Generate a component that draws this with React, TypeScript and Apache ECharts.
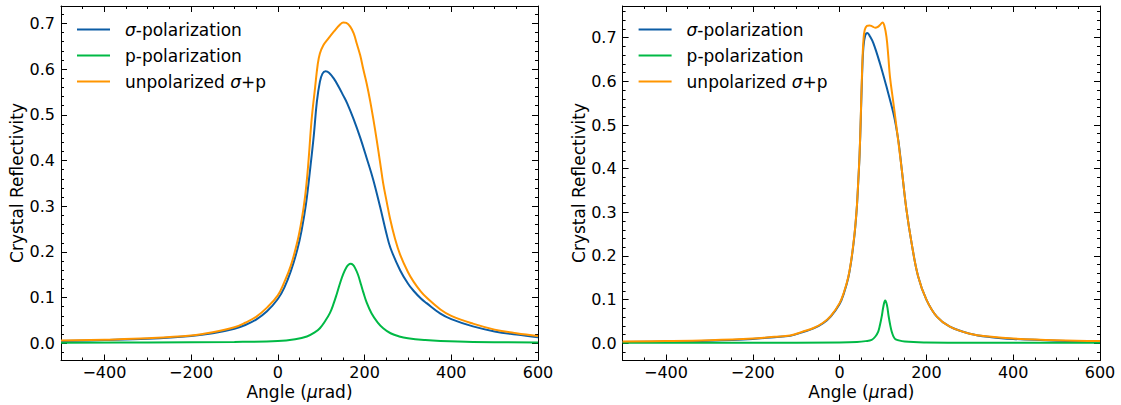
import React, { useEffect, useRef } from 'react';
import * as echarts from 'echarts';

// ---- tick values ----
const xMajor = [-400, -200, 0, 200, 400, 600];
const xMinor = [-450, -350, -300, -250, -150, -100, -50, 50, 100, 150, 250, 300, 350, 450, 500, 550];
const yMajor = [0, 0.1, 0.2, 0.3, 0.4, 0.5, 0.6, 0.7];
const yMinor = [-0.02, 0.02, 0.04, 0.06, 0.08, 0.12, 0.14, 0.16, 0.18, 0.22, 0.24, 0.26, 0.28, 0.32, 0.34, 0.36, 0.38,
  0.42, 0.44, 0.46, 0.48, 0.52, 0.54, 0.56, 0.58, 0.62, 0.64, 0.66, 0.68, 0.72, 0.74, 0.76];

// ---- left panel data ----
const LS_angle = [-500, -400, -300, -200, -150, -100, -75, -50, -25, 0, 15, 30, 45, 55, 65, 75, 83, 90, 97, 103, 110, 118, 130, 140, 151, 160, 175, 190, 205, 220, 236, 250, 260, 282, 300, 313, 330, 343, 375, 400, 450, 500, 550, 600];
const LS_val = [0.005, 0.007, 0.010, 0.016, 0.022, 0.032, 0.040, 0.052, 0.070, 0.097, 0.122, 0.158, 0.205, 0.248, 0.305, 0.385, 0.455, 0.528, 0.572, 0.590, 0.595, 0.592, 0.578, 0.562, 0.542, 0.525, 0.490, 0.450, 0.405, 0.358, 0.298, 0.242, 0.208, 0.160, 0.131, 0.115, 0.098, 0.088, 0.065, 0.053, 0.037, 0.026, 0.019, 0.013];

const LP_angle = [-500, -300, -100, 0, 40, 67, 85, 97, 110, 120, 128, 136, 144, 151, 158, 163, 168, 173, 178, 185, 192, 197, 205, 216, 230, 243, 260, 280, 300, 340, 375, 450, 600];
const LP_val = [0.001, 0.002, 0.003, 0.005, 0.009, 0.015, 0.024, 0.033, 0.050, 0.066, 0.085, 0.108, 0.133, 0.152, 0.166, 0.172, 0.174, 0.172, 0.165, 0.150, 0.128, 0.112, 0.089, 0.066, 0.046, 0.033, 0.022, 0.015, 0.011, 0.007, 0.005, 0.003, 0.002];

const LU_angle = [-500, -400, -300, -200, -150, -100, -75, -50, -25, 0, 15, 30, 45, 55, 63, 70, 78, 86, 92, 97, 105, 115, 130, 143, 151, 158, 167, 175, 182, 190, 197, 205, 213, 220, 228, 236, 243, 251, 259, 270, 282, 300, 313, 330, 343, 375, 400, 450, 500, 550, 600];
const LU_val = [0.006, 0.008, 0.011, 0.017, 0.024, 0.035, 0.045, 0.058, 0.078, 0.105, 0.134, 0.170, 0.222, 0.270, 0.322, 0.390, 0.490, 0.560, 0.610, 0.634, 0.652, 0.665, 0.683, 0.697, 0.702, 0.701, 0.693, 0.678, 0.656, 0.630, 0.600, 0.568, 0.530, 0.492, 0.445, 0.395, 0.350, 0.310, 0.272, 0.230, 0.194, 0.156, 0.135, 0.113, 0.100, 0.074, 0.060, 0.043, 0.030, 0.022, 0.016];

// ---- right panel data ----
const RS_angle = [-500, -400, -300, -200, -150, -114, -84, -60, -38, -20, 0, 10, 20, 27, 32, 36, 40, 43, 46, 49, 52, 55, 59, 64, 70, 78, 93, 108, 124, 130, 136, 143, 154, 166, 181, 200, 224, 254, 300, 350, 400, 500, 600];
const RS_val = [0.003, 0.004, 0.006, 0.010, 0.014, 0.017, 0.026, 0.034, 0.046, 0.062, 0.090, 0.115, 0.150, 0.190, 0.228, 0.265, 0.315, 0.370, 0.430, 0.520, 0.620, 0.680, 0.705, 0.711, 0.703, 0.687, 0.641, 0.588, 0.527, 0.497, 0.460, 0.400, 0.306, 0.229, 0.153, 0.100, 0.061, 0.038, 0.022, 0.014, 0.010, 0.006, 0.004];

const RP_angle = [-500, -200, 0, 40, 60, 74, 82, 89, 93, 97, 101, 105, 109, 113, 117, 120, 124, 128, 135, 150, 200, 300, 600];
const RP_val = [0.001, 0.001, 0.002, 0.003, 0.005, 0.008, 0.015, 0.027, 0.042, 0.061, 0.085, 0.098, 0.088, 0.062, 0.040, 0.027, 0.016, 0.010, 0.007, 0.004, 0.002, 0.001, 0.001];

const RU_angle = [-500, -400, -300, -200, -150, -114, -84, -60, -38, -20, 0, 10, 20, 27, 32, 36, 40, 43, 46, 49, 52, 55, 58, 63, 69, 75, 82, 87, 93, 99, 103, 108, 112, 116, 124, 131, 143, 154, 166, 181, 200, 224, 254, 300, 350, 400, 500, 600];
const RU_val = [0.004, 0.005, 0.007, 0.011, 0.015, 0.018, 0.027, 0.035, 0.047, 0.063, 0.092, 0.117, 0.152, 0.192, 0.230, 0.267, 0.317, 0.372, 0.432, 0.525, 0.630, 0.695, 0.718, 0.727, 0.728, 0.726, 0.723, 0.724, 0.729, 0.735, 0.728, 0.702, 0.660, 0.611, 0.550, 0.496, 0.400, 0.306, 0.229, 0.153, 0.100, 0.061, 0.038, 0.022, 0.015, 0.011, 0.007, 0.005];

const seriesNames = ['σ-polarization', 'p-polarization', 'unpolarized σ+p'];
const legendRich = ['{i|σ}-polarization', 'p-polarization', 'unpolarized {i|σ}+p'];
const colors = ['#0C5DA5', '#00B945', '#FF9500'];

const FONT = 'DejaVu Sans';
const FS = 16;
const FS_T = 17;

const pairs = (a: number[], v: number[]) => a.map((x, i) => [x, v[i]]);

const fmtX = (v: number) => (v < 0 ? '\u2212' + Math.abs(v) : String(v));
const fmtY = (v: number) => (v < 0 ? '\u2212' + Math.abs(v).toFixed(1) : v.toFixed(1));

function buildAxes(gridIndex: number, isX: boolean, min: number, max: number, major: number[], minor: number[], fmt: (v: number) => string) {
  const line = { show: true, onZero: false, lineStyle: { color: '#000', width: 1 } };
  const mk = (pos: string, ticks: number[], len: number, showLine: boolean, labels: boolean) => ({
    type: 'value',
    gridIndex,
    min,
    max,
    position: pos,
    splitLine: { show: false },
    axisLine: showLine ? line : { show: false, onZero: false },
    axisTick: { show: true, inside: true, length: len, customValues: ticks, lineStyle: { color: '#000', width: 1 } },
    axisLabel: labels
      ? { show: true, customValues: major, formatter: fmt, fontFamily: FONT, fontSize: FS, color: '#000', margin: isX ? 4 : 6, hideOverlap: false }
      : { show: false },
  });
  if (isX) {
    return [mk('bottom', major, 6, true, true), mk('bottom', minor, 3, false, false), mk('top', major, 6, true, false), mk('top', minor, 3, false, false)];
  }
  return [mk('left', major, 6, true, true), mk('left', minor, 3, false, false), mk('right', major, 6, true, false), mk('right', minor, 3, false, false)];
}

const richStyle = {
  i: { fontStyle: 'italic', fontFamily: FONT, fontSize: FS_T, fill: '#000' },
};

function legendGraphics(x0: number) {
  const ys = [29.5, 55.5, 81.5];
  const out: any[] = [];
  ys.forEach((y, i) => {
    out.push({
      type: 'line',
      shape: { x1: x0, y1: y, x2: x0 + 33, y2: y },
      style: { stroke: colors[i], lineWidth: 2.2 },
      z: 100,
    });
    out.push({
      type: 'text',
      x: x0 + 48,
      y,
      style: {
        text: legendRich[i],
        rich: richStyle,
        fontFamily: FONT,
        fontSize: FS_T,
        fill: '#000',
        align: 'left',
        textAlign: 'left',
        verticalAlign: 'middle',
        textVerticalAlign: 'middle',
      },
      z: 100,
    });
  });
  return out;
}

function axisTitle(text: string, x: number, y: number, rotate: boolean) {
  return {
    type: 'text',
    x,
    y,
    rotation: rotate ? Math.PI / 2 : 0,
    style: {
      text,
      rich: richStyle,
      fontFamily: FONT,
      fontSize: FS_T,
      fill: '#000',
      align: 'center',
      textAlign: 'center',
      verticalAlign: 'middle',
      textVerticalAlign: 'middle',
    },
    z: 100,
  };
}

export default function App() {
  const ref = useRef<HTMLDivElement>(null);
  useEffect(() => {
    if (!ref.current) return;
    const chart = echarts.init(ref.current, null, { renderer: 'svg' });
    const grids = [
      { left: 61, top: 6, width: 477, height: 354.5 },
      { left: 622.6, top: 6, width: 477.4, height: 354.5 },
    ];
    const xAxes = [
      ...buildAxes(0, true, -500, 600, xMajor, xMinor, fmtX),
      ...buildAxes(1, true, -500, 600, xMajor, xMinor, fmtX),
    ];
    const yAxes = [
      ...buildAxes(0, false, -0.0376, 0.738, yMajor, yMinor.filter((v) => v < 0.738), fmtY),
      ...buildAxes(1, false, -0.0394, 0.7726, yMajor, yMinor, fmtY),
    ];
    const panelData = [
      [pairs(LS_angle, LS_val), pairs(LP_angle, LP_val), pairs(LU_angle, LU_val)],
      [pairs(RS_angle, RS_val), pairs(RP_angle, RP_val), pairs(RU_angle, RU_val)],
    ];
    const series: any[] = [];
    panelData.forEach((curves, g) => {
      curves.forEach((d, i) => {
        series.push({
          type: 'line',
          name: seriesNames[i],
          xAxisIndex: g * 4,
          yAxisIndex: g * 4,
          data: d,
          showSymbol: false,
          symbol: 'none',
          smooth: 0.4,
          lineStyle: { color: colors[i], width: 2 },
          itemStyle: { color: colors[i] },
          clip: true,
        });
      });
    });
    chart.setOption({
      animation: false,
      backgroundColor: '#fff',
      grid: grids,
      xAxis: xAxes,
      yAxis: yAxes,
      series,
      graphic: [
        ...legendGraphics(77),
        ...legendGraphics(638.6),
        axisTitle('Angle ({i|μ}rad)', 299.5, 392, false),
        axisTitle('Angle ({i|μ}rad)', 861.3, 392, false),
        axisTitle('Crystal Reflectivity', 17, 183, true),
        axisTitle('Crystal Reflectivity', 578.6, 183, true),
      ],
    });
    return () => chart.dispose();
  }, []);
  return <div ref={ref} style={{ position: 'fixed', left: 0, top: 0, width: 1121, height: 405, background: '#fff' }} />;
}
